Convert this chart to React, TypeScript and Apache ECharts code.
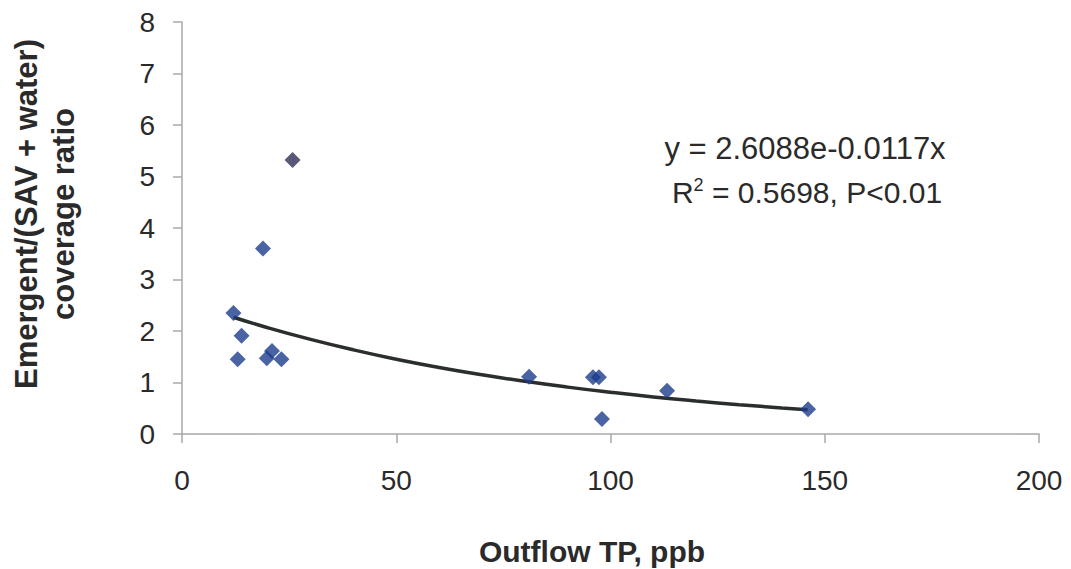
import React, { useEffect, useRef } from "react";
import * as echarts from "echarts";

const xTicks = [0, 50, 100, 150, 200];
const yTicks = [0, 1, 2, 3, 4, 5, 6, 7, 8];

const tpValues = [12.0, 13.9, 13.0, 18.9, 19.8, 21.0, 23.2, 25.8, 81.0, 95.9, 97.3, 98.0, 113.2, 146.1];
const ratioValues = [2.35, 1.91, 1.45, 3.6, 1.47, 1.61, 1.45, 5.32, 1.11, 1.1, 1.1, 0.29, 0.84, 0.48];

// Trendline points
const trendX = [12, 20, 30, 40, 50, 60, 70, 80, 90, 100, 110, 120, 130, 140, 146];
const trendY = [2.267, 2.064, 1.837, 1.634, 1.453, 1.293, 1.15, 1.023, 0.91, 0.81, 0.72, 0.641, 0.57, 0.507, 0.473];

const xTitle = "Outflow TP, ppb";
const yTitle = "Emergent/(SAV + water)\ncoverage ratio";
const eqLine1 = "y = 2.6088e-0.0117x";

const FONT = "'Liberation Sans', Arial, Helvetica, sans-serif";

export default function App() {
  const ref = useRef<HTMLDivElement>(null);
  useEffect(() => {
    if (!ref.current) return;
    const chart = echarts.init(ref.current, null, { renderer: "svg" });
    const points = tpValues.map((x, i) => {
      const item: any = { value: [x, ratioValues[i]] };
      if (ratioValues[i] > 5) item.itemStyle = { color: "#2f2d55" };
      return item;
    });
    const trend = trendX.map((x, i) => [x, trendY[i]]);
    chart.setOption({
      animation: false,
      backgroundColor: "#ffffff",
      textStyle: { fontFamily: FONT },
      grid: { left: 182, right: 32, top: 22, bottom: 135, containLabel: false },
      xAxis: {
        type: "value",
        min: xTicks[0],
        max: xTicks[xTicks.length - 1],
        interval: 50,
        splitLine: { show: false },
        axisLine: { show: true, lineStyle: { color: "#a8a8a8", width: 1.5 } },
        axisTick: { show: true, length: 9, lineStyle: { color: "#a8a8a8", width: 1.5 } },
        axisLabel: { color: "#2a2a2a", fontSize: 28, margin: 32, fontFamily: FONT },
      },
      yAxis: {
        type: "value",
        min: yTicks[0],
        max: yTicks[yTicks.length - 1],
        interval: 1,
        splitLine: { show: false },
        axisLine: { show: true, lineStyle: { color: "#a8a8a8", width: 1.5 } },
        axisTick: { show: true, length: 9, lineStyle: { color: "#a8a8a8", width: 1.5 } },
        axisLabel: { color: "#2a2a2a", fontSize: 28, margin: 27, fontFamily: FONT },
      },
      series: [
        {
          type: "line",
          data: trend,
          smooth: true,
          showSymbol: false,
          symbol: "none",
          lineStyle: { color: "#2a2e2e", width: 3.5 },
          z: 2,
        },
        {
          type: "scatter",
          data: points,
          symbol: "diamond",
          symbolSize: 16,
          itemStyle: { color: "#1b3c8c" },
          z: 3,
        },
      ],
      graphic: [
        {
          type: "text",
          x: 592,
          y: 551,
          style: {
            text: xTitle,
            font: `bold 30px ${FONT}`,
            fill: "#2a2a2a",
            textAlign: "center",
            textVerticalAlign: "middle",
          },
        },
        {
          type: "text",
          x: 45,
          y: 214,
          rotation: Math.PI / 2,
          style: {
            text: yTitle,
            font: `bold 31px ${FONT}`,
            fill: "#2a2a2a",
            textAlign: "center",
            textVerticalAlign: "middle",
            lineHeight: 37,
          },
        },
        {
          type: "text",
          x: 805,
          y: 148,
          style: {
            text: eqLine1,
            font: `31px ${FONT}`,
            fill: "#2a2a2a",
            textAlign: "center",
            textVerticalAlign: "middle",
          },
        },
        {
          type: "text",
          x: 807,
          y: 192,
          style: {
            text: "{a|R}{s|2}{a| = 0.5698, P<0.01}",
            textAlign: "center",
            textVerticalAlign: "middle",
            rich: {
              a: { font: `30px ${FONT}`, fill: "#2a2a2a", color: "#2a2a2a" },
              s: { font: `18px ${FONT}`, fill: "#2a2a2a", color: "#2a2a2a", verticalAlign: "top", padding: [0, 0, 14, 0] },
            },
          },
        },
      ],
    });
    return () => chart.dispose();
  }, []);
  return (
    <div
      ref={ref}
      style={{ position: "fixed", left: 0, top: 0, width: 1071, height: 569, background: "#fff" }}
    />
  );
}
